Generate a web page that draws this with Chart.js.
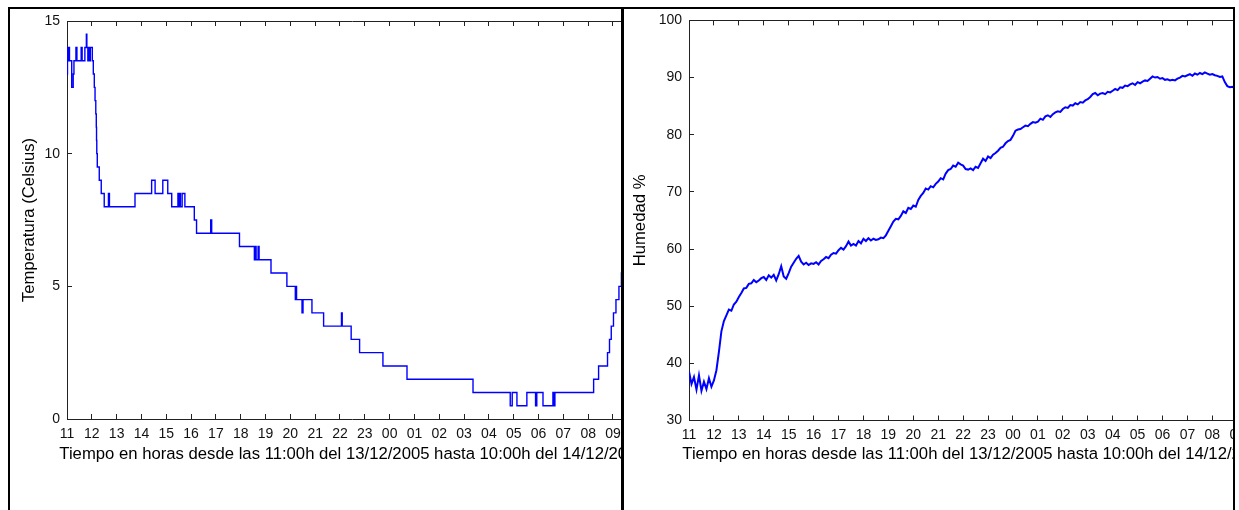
<!DOCTYPE html>
<html lang="es">
<head>
  <meta charset="UTF-8">
  <title>Temperatura y humedad 13/12/2005</title>
  <script src="https://cdn.jsdelivr.net/npm/chart.js"></script>
  <style>
    html, body {
      margin: 0;
      padding: 0;
      background: #ffffff;
      overflow: hidden;
    }
    body {
      position: relative;
      width: 1239px;
      height: 510px;
    }
    .panel {
      position: absolute;
      top: 7px;
      height: 520px;
      overflow: hidden;
      border-top: 2px solid #000;
    }
    #panelTemp {
      left: 8px;
      width: 611px;
      border-left: 2px solid #000;
    }
    #panelHum {
      left: 621px;
      width: 609px;
      border-left: 3px solid #000;
      border-right: 2px solid #000;
    }
    .panel canvas {
      position: absolute;
      top: -9px;
    }
    #tempChart { left: -10px; }
    #humChart { left: -24px; }
  </style>
</head>
<body>

  <div class="panel" id="panelTemp">
    <canvas id="tempChart" width="705" height="510"></canvas>
  </div>

  <div class="panel" id="panelHum">
    <canvas id="humChart" width="751" height="510"></canvas>
  </div>

  <script>
    // hours counted from 11:00h on 13/12/2005
    const hourLabels = ["11", "12", "13", "14", "15", "16", "17", "18", "19", "20", "21", "22",
                        "23", "00", "01", "02", "03", "04", "05", "06", "07", "08", "09", "10"];

    // temperature (Celsius): each value holds until the next change point
    const tempHours = [
      0.00, 0.02, 0.04, 0.07, 0.10, 0.19, 0.25, 0.28, 0.36, 0.40,
      0.57, 0.61, 0.72, 0.78, 0.80, 0.84, 0.88, 0.91, 0.94, 1.02,
      1.06, 1.10, 1.13, 1.16, 1.18, 1.19, 1.20, 1.22, 1.30, 1.38,
      1.50, 1.67, 1.71, 2.74, 3.41, 3.55, 3.86, 4.06, 4.22, 4.47,
      4.50, 4.54, 4.57, 4.64, 4.75, 5.13, 5.22, 5.79, 5.83, 6.95,
      7.55, 7.60, 7.62, 7.70, 7.74, 8.22, 8.86, 9.20, 9.23, 9.25,
      9.47, 9.51, 9.87, 10.34, 11.06, 11.09, 11.45, 11.79, 12.73, 13.70,
      16.36, 17.86, 17.94, 18.13, 18.53, 18.88, 18.93, 19.18, 19.58, 19.61,
      19.66, 21.22, 21.42, 21.78, 21.86, 21.93, 22.02, 22.12, 22.24, 22.34,
      22.45
    ];
    const tempValues = [
      13.0, 14.0, 13.5, 14.0, 13.5, 12.5, 13.0, 13.5, 14.0, 13.5,
      14.0, 13.5, 14.0, 14.5, 14.0, 13.5, 14.0, 13.5, 14.0, 13.5,
      13.0, 12.5, 12.0, 11.5, 11.0, 10.5, 10.0, 9.5, 9.0, 8.5,
      8.0, 8.5, 8.0, 8.5, 9.0, 8.5, 9.0, 8.5, 8.0, 8.5,
      8.0, 8.5, 8.0, 8.5, 8.0, 7.5, 7.0, 7.5, 7.0, 6.5,
      6.0, 6.5, 6.0, 6.5, 6.0, 5.5, 5.0, 4.5, 5.0, 4.5,
      4.0, 4.5, 4.0, 3.5, 4.0, 3.5, 3.0, 2.5, 2.0, 1.5,
      1.0, 0.5, 1.0, 0.5, 1.0, 0.5, 1.0, 0.5, 1.0, 0.5,
      1.0, 1.5, 2.0, 2.5, 3.0, 3.5, 4.0, 4.5, 5.0, 5.5,
      5.5
    ];

    // relative humidity (%), one reading every 6 minutes, one row per hour
    const humStepHours = 0.1;
    const humValues = [
      38.6, 36.4, 37.6, 35.4, 37.9, 35.2, 36.8, 35.5, 37.4, 35.9,
      37.0, 38.8, 42.0, 45.6, 47.4, 48.4, 49.4, 49.2, 50.3, 50.8,
      51.6, 52.3, 53.1, 53.2, 53.9, 54.0, 54.6, 54.2, 54.5, 54.9,
      55.1, 54.6, 55.4, 55.0, 55.5, 54.5, 55.6, 57.0, 55.2, 54.8,
      55.8, 56.9, 57.6, 58.3, 58.8, 57.8, 57.3, 57.6, 57.2, 57.5,
      57.4, 57.7, 57.3, 57.9, 58.2, 58.6, 58.4, 59.0, 59.3, 59.2,
      59.8, 60.2, 59.9, 60.5, 61.3, 60.6, 60.9, 60.6, 61.4, 61.0,
      61.8, 61.4, 61.9, 61.5, 61.8, 61.6, 61.7, 62.0, 61.9, 62.4,
      63.2, 64.0, 64.8, 65.3, 65.2, 65.8, 66.6, 66.3, 67.2, 67.0,
      67.6, 67.4, 68.6, 69.3, 69.8, 70.6, 70.4, 71.0, 70.8, 71.4,
      71.8, 72.4, 72.2, 73.2, 73.8, 74.0, 74.6, 74.4, 75.1, 74.8,
      74.6, 74.0, 73.9, 74.1, 73.8, 74.4, 74.2, 75.0, 75.8, 75.4,
      76.2, 75.9, 76.5, 76.8, 77.2, 77.7, 77.9, 78.5, 78.9, 79.1,
      79.8, 80.7, 80.9, 81.0, 81.3, 81.6, 81.5, 81.9, 82.2, 82.1,
      82.3, 82.8, 82.6, 83.2, 83.4, 83.1, 83.6, 83.9, 84.1, 84.0,
      84.5, 84.8, 84.7, 85.2, 85.1, 85.5, 85.3, 85.7, 85.6, 86.0,
      86.2, 86.6, 87.1, 87.3, 86.9, 87.2, 87.3, 87.1, 87.5, 87.4,
      87.7, 88.0, 87.8, 88.3, 88.2, 88.6, 88.5, 88.8, 89.0, 88.7,
      89.2, 89.0, 89.3, 89.5, 89.4, 89.8, 90.2, 90.0, 90.1, 89.8,
      89.9, 89.6, 89.7, 89.5, 89.6, 89.5, 89.8, 90.0, 90.3, 90.2,
      90.4, 90.6, 90.3, 90.7, 90.5, 90.8, 90.6, 90.9, 90.7, 90.5,
      90.6, 90.4, 90.3, 90.1, 90.2, 89.2, 88.5, 88.3, 88.4, 88.1,
      88.2, 88.3, 88.0
    ];

    const xTitle = "Tiempo en horas desde las 11:00h del 13/12/2005 hasta 10:00h del 14/12/2005";
    const FONT = '"Liberation Sans", Arial, sans-serif';
    const AXIS = "#222222";

    function makeChart(id, points, opts) {
      const innerTicks = { drawOnChartArea: false, tickLength: -5, tickColor: AXIS, tickWidth: 1 };
      new Chart(document.getElementById(id), {
        type: "line",
        data: {
          datasets: [{
            data: points,
            borderColor: "#0000ff",
            borderWidth: opts.lineW,
            pointRadius: 0,
            fill: false,
            stepped: opts.stepped
          }]
        },
        options: {
          responsive: false,
          animation: false,
          devicePixelRatio: 1,
          layout: { padding: 0 },
          plugins: {
            legend: { display: false },
            tooltip: { enabled: false },
            title: {
              display: true,
              position: "bottom",
              text: xTitle,
              color: "#000",
              font: { family: FONT, size: 16.7, weight: "normal" },
              padding: { top: 0, bottom: 46 }
            }
          },
          scales: {
            x: {
              type: "linear",
              position: "bottom",
              min: 0,
              max: 23,
              afterFit: s => { s.height = opts.bottomH; },
              ticks: {
                stepSize: 1,
                autoSkip: false,
                maxRotation: 0,
                padding: opts.xTickPad,
                color: "#111",
                font: { family: FONT, size: 14 },
                callback: v => hourLabels[Math.round(v)]
              },
              grid: innerTicks,
              border: { color: AXIS }
            },
            x2: {
              type: "linear",
              position: "top",
              min: 0,
              max: 23,
              afterFit: s => { s.height = opts.topH; },
              ticks: { stepSize: 1, display: false },
              grid: innerTicks,
              border: { color: AXIS }
            },
            y: {
              type: "linear",
              position: "left",
              min: opts.yMin,
              max: opts.yMax,
              afterFit: s => { s.width = opts.leftW; },
              ticks: {
                stepSize: opts.yStep,
                padding: 12,
                color: "#111",
                font: { family: FONT, size: 14 }
              },
              grid: innerTicks,
              border: { color: AXIS },
              title: {
                display: true,
                text: opts.yTitle,
                color: "#000",
                font: { family: FONT, size: 16.7 },
                padding: { top: opts.yTitlePad, bottom: 0 }
              }
            },
            // empty right-hand box, keeps the time axis running past the panel edge
            yRight: {
              type: "linear",
              position: "right",
              min: opts.yMin,
              max: opts.yMax,
              afterFit: s => { s.width = opts.rightW; },
              ticks: { display: false },
              grid: { display: false },
              border: { display: false }
            }
          }
        }
      });
    }

    makeChart("tempChart",
      tempHours.map((h, i) => ({ x: h, y: tempValues[i] })),
      { stepped: true, lineW: 1.4, rightW: 67.2, bottomH: 24.96, topH: 21, leftW: 67,
        xTickPad: 11.5, yMin: 0, yMax: 15, yStep: 5,
        yTitle: "Temperatura (Celsius)", yTitlePad: 19.8 });

    makeChart("humChart",
      humValues.map((v, i) => ({ x: i * humStepHours, y: v })),
      { stepped: false, lineW: 2, rightW: 88.8, bottomH: 23.46, topH: 18, leftW: 89,
        xTickPad: 11, yMin: 30, yMax: 100, yStep: 10,
        yTitle: "Humedad %", yTitlePad: 30.8 });
  </script>

</body>
</html>
